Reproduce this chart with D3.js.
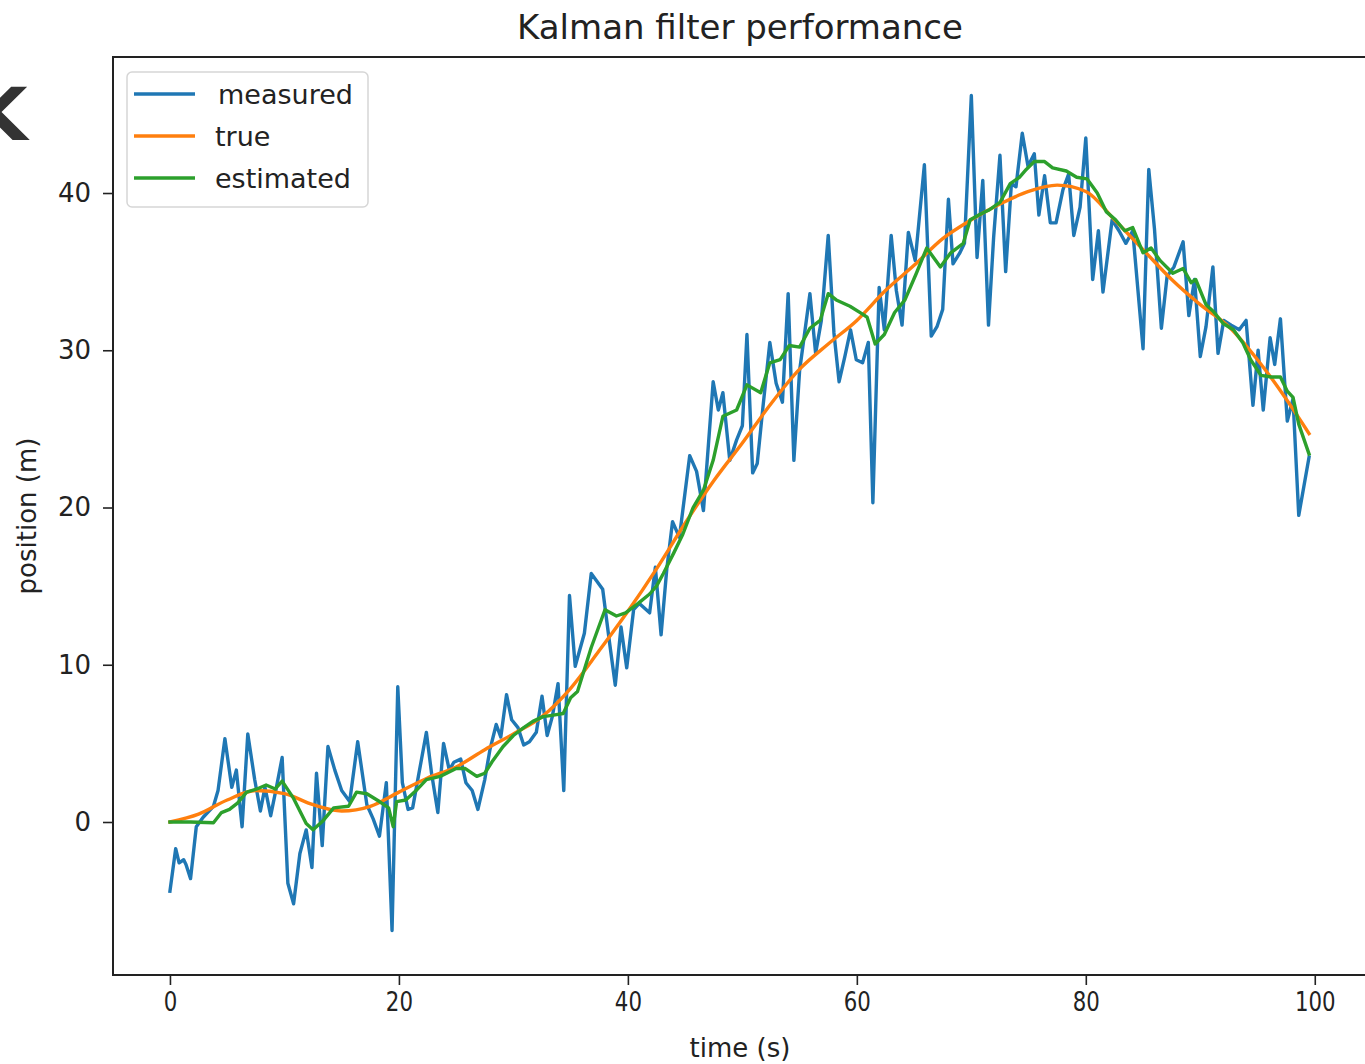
<!DOCTYPE html>
<html>
<head>
<meta charset="utf-8">
<script src="https://cdn.jsdelivr.net/npm/d3@7"></script>
<style>
  html, body { margin: 0; padding: 0; background: #fff; overflow: hidden; }
  svg { display: block; font-family: "DejaVu Sans", sans-serif; }
</style>
</head>
<body>
<svg id="chart" width="1365" height="1064"></svg>
<script>
// Kalman filter demo: noisy measurements, ground truth and filter estimate.

const measuredTime = [
  0, 0.5, 0.8, 1.2, 1.4, 1.8, 2.3, 2.9, 3.8, 4.2, 4.8, 5.4, 5.8, 6.3, 6.8, 7.4, 7.9, 8.3, 8.8, 9.3, 9.8,
  10.3, 10.8, 11.35, 11.9, 12.4, 12.8, 13.3, 13.8, 14.4, 15.0, 15.7, 16.4, 17.2, 17.75, 18.3, 18.9, 19.4, 19.9,
  20.3, 20.8, 21.2, 21.7, 22.4, 22.85, 23.4, 23.9, 24.4, 24.8, 25.4, 25.85, 26.4, 26.9, 27.5, 27.95, 28.5, 28.9, 29.4, 29.85,
  30.4, 30.9, 31.4, 32.0, 32.5, 32.95, 33.4, 33.9, 34.4, 34.9, 35.4, 36.2, 36.8, 37.8, 38.4, 38.9, 39.4, 39.9,
  40.5, 41.0, 41.9, 42.4, 42.9, 43.4, 43.9, 44.5, 45.4, 46.0, 46.6, 47.45, 47.9, 48.3, 48.9, 49.5, 50.0, 50.4, 50.9,
  51.3, 51.8, 52.4, 52.95, 53.5, 54.0, 54.5, 55.0, 55.9, 56.4, 56.9, 57.5, 58.0, 58.45, 58.95, 59.45, 59.95,
  60.5, 61.0, 61.4, 61.95, 62.4, 63.0, 63.45, 63.95, 64.5, 65.1, 65.9, 66.5, 67.0, 67.5, 68.0, 68.4, 69.0, 69.4,
  70.0, 70.5, 71.0, 71.5, 71.95, 72.5, 73.0, 73.5, 73.9, 74.45, 74.95, 75.5, 75.9, 76.4, 76.9, 77.4, 78.0, 78.5, 78.95, 79.5,
  80.0, 80.6, 81.1, 81.5, 82.3, 82.9, 83.5, 84.1, 85.0, 85.5, 86.0, 86.6, 87.1, 87.7, 88.5, 89.0, 89.5,
  90.0, 90.5, 91.1, 91.55, 92.05, 92.7, 93.4, 94.0, 94.6, 95.05, 95.5, 96.1, 96.5, 97.0, 97.6, 98.1, 98.6, 99.5
];
const measuredPos = [
  -4.4, -1.7, -2.6, -2.4, -2.7, -3.6, -0.3, 0.3, 1.0, 2.0, 5.3, 2.2, 3.3, -0.3, 5.6, 2.7, 0.7, 2.2, 0.4, 2.2, 4.1,
  -3.9, -5.2, -2.0, -0.5, -2.9, 3.1, -1.5, 4.8, 3.3, 2.0, 1.3, 5.1, 1.1, 0.2, -0.9, 2.5, -6.9, 8.6,
  2.5, 0.8, 0.9, 2.9, 5.7, 3.1, 0.6, 5.0, 3.3, 3.8, 4.0, 2.5, 2.0, 0.8, 2.7, 4.6, 6.2, 5.4, 8.1, 6.5,
  6.0, 4.9, 5.1, 5.7, 8.0, 5.5, 6.7, 8.8, 2.0, 14.4, 9.9, 12.0, 15.8, 14.8, 11.4, 8.7, 12.4, 9.8,
  13.5, 13.9, 13.3, 16.2, 11.9, 16.1, 19.1, 18.1, 23.3, 22.3, 19.8, 28.0, 26.2, 27.3, 23.0, 24.3, 25.2, 31.0, 22.2,
  22.8, 26.4, 30.5, 27.9, 26.7, 33.6, 23.0, 28.7, 33.6, 29.8, 31.9, 37.3, 31.1, 28.0, 29.6, 31.3, 29.4,
  29.2, 30.5, 20.3, 34.0, 31.3, 37.3, 33.8, 31.6, 37.5, 35.7, 41.8, 30.9, 31.5, 32.6, 39.6, 35.5, 36.2, 36.8,
  46.2, 35.9, 40.8, 31.6, 37.2, 42.4, 35.0, 40.6, 40.4, 43.8, 41.7, 42.5, 38.6, 41.1, 38.1, 38.1, 40.2, 41.2, 37.3, 39.1,
  43.5, 34.5, 37.6, 33.7, 38.3, 37.6, 36.8, 37.6, 30.1, 41.5, 37.7, 31.4, 34.7, 35.3, 36.9, 32.2, 34.5,
  29.6, 31.5, 35.3, 29.8, 31.9, 31.6, 31.3, 31.9, 26.5, 30.0, 26.2, 30.8, 29.1, 32.0, 25.5, 26.9, 19.5, 23.2
];

const trueTime = [
  0, 2.5, 5, 7.5, 10, 12.5, 15, 17.5, 20, 22.5, 25, 27.5, 30, 32.5, 35, 37.5, 40, 42.5, 45, 47.5,
  50, 52.5, 55, 57.5, 60, 62.5, 65, 67.5, 70, 72.5, 75, 77.5, 80, 82.5, 85, 87.5, 90, 92.5, 95, 97.5, 99.5
];
const truePos = [
  0.0, 0.5, 1.4, 2.0, 1.8, 1.1, 0.7, 1.0, 1.9, 2.8, 3.5, 4.6, 5.6, 6.7, 8.5, 10.9, 13.4, 16.1, 19.0, 21.7,
  24.1, 26.6, 28.8, 30.4, 31.9, 33.8, 35.4, 37.1, 38.3, 39.3, 40.1, 40.5, 40.1, 38.3, 36.4, 34.5, 32.9, 31.5, 29.4, 26.9, 24.7
];

const estimatedTime = [
  0, 1.8, 3.8, 4.5, 5.2, 5.9, 6.7, 7.6, 8.4, 9.2, 9.8, 10.8, 11.9, 12.5, 13.4, 14.3, 15.6, 16.3, 17.2, 18.3, 19.1, 19.5,
  19.8, 20.6, 21.5, 22.4, 23.6, 25.0, 25.8, 26.8, 27.5, 28.2, 29.1, 30.0, 30.9, 31.7, 32.6, 33.5, 34.35, 35.0, 35.6,
  36.8, 38.0, 39.0, 39.8, 40.9, 41.9, 42.5, 43.1, 44.0, 44.8, 45.7, 46.6, 47.45, 48.3, 49.5, 50.4, 51.6,
  52.4, 53.3, 54.1, 55.0, 55.9, 56.8, 57.5, 58.2, 59.4, 60.5, 60.9, 61.6, 62.4, 63.3, 64.2, 65.2, 66.1, 67.3,
  68.2, 69.3, 69.9, 70.9, 71.5, 72.5, 73.4, 74.2, 74.8, 75.5, 76.4, 77.1, 78.3, 79.2, 80.1, 81.0, 81.8,
  82.6, 83.4, 84.1, 85.0, 85.7, 86.5, 87.6, 88.5, 89.2, 89.6, 90.5, 91.1, 92.0, 92.9, 93.7, 94.4, 95.3,
  96.2, 97.0, 97.6, 98.1, 98.6, 99.5
];
const estimatedPos = [
  0.0, 0.0, -0.05, 0.6, 0.8, 1.2, 1.9, 2.1, 2.35, 2.1, 2.6, 1.5, -0.1, -0.5, 0.1, 0.9, 1.0, 1.9, 1.8, 1.3, 0.9, -0.3,
  1.3, 1.4, 2.0, 2.7, 2.9, 3.4, 3.4, 2.9, 3.1, 3.9, 4.8, 5.5, 6.0, 6.4, 6.7, 6.8, 6.9, 7.9, 8.3,
  11.1, 13.5, 13.1, 13.3, 13.9, 14.5, 15.0, 15.8, 17.1, 18.3, 20.0, 21.1, 23.0, 25.8, 26.2, 27.8, 27.3,
  29.2, 29.4, 30.3, 30.2, 31.4, 31.9, 33.6, 33.2, 32.8, 32.3, 32.1, 30.4, 31.0, 32.4, 33.2, 34.9, 36.5, 35.3,
  36.2, 36.8, 38.3, 38.7, 38.9, 39.4, 40.6, 41.0, 41.5, 42.0, 42.0, 41.6, 41.4, 41.0, 40.9, 40.0, 38.8,
  38.3, 37.6, 37.8, 36.2, 36.5, 35.7, 34.9, 35.2, 34.3, 34.5, 32.9, 32.5, 31.7, 31.3, 30.5, 29.4, 28.4,
  28.3, 28.3, 27.4, 27.0, 25.3, 23.4
];

const xTicks = [0, 20, 40, 60, 80, 100];
const yTicks = [0, 10, 20, 30, 40];

const series = [
  { name: 'measured', time: measuredTime, pos: measuredPos, color: '#1f77b4' },
  { name: 'true', time: trueTime, pos: truePos, color: '#ff7f0e', smooth: true },
  { name: 'estimated', time: estimatedTime, pos: estimatedPos, color: '#2ca02c' },
];

const svg = d3.select('#chart');
const margin = { left: 113, right: 1366, top: 57, bottom: 975 };

const x = d3.scaleLinear().domain([-4.975, 104.475]).range([margin.left, margin.right]);
const y = d3.scaleLinear().domain([-9.73, 48.65]).range([margin.bottom, margin.top]);

// stray glyph cut off at the left edge of the screenshot
svg.append('text')
  .attr('x', -29).attr('y', 140)
  .attr('font-size', 73).attr('font-weight', 'bold')
  .attr('fill', '#333')
  .text('K');

svg.append('defs').append('clipPath').attr('id', 'plot-clip')
  .append('rect')
  .attr('x', margin.left).attr('y', margin.top)
  .attr('width', margin.right - margin.left).attr('height', margin.bottom - margin.top);

const plot = svg.append('g').attr('clip-path', 'url(#plot-clip)');

series.forEach((s) => {
  const line = d3.line()
    .x((d) => x(d[0]))
    .y((d) => y(d[1]))
    .curve(s.smooth ? d3.curveMonotoneX : d3.curveLinear);
  plot.append('path')
    .datum(s.time.map((t, i) => [t, s.pos[i]]))
    .attr('d', line)
    .attr('fill', 'none')
    .attr('stroke', s.color)
    .attr('stroke-width', 3.4)
    .attr('stroke-linejoin', 'round')
    .attr('stroke-linecap', 'square');
});

// axes
const xAxis = svg.append('g')
  .attr('transform', `translate(0,${margin.bottom})`)
  .call(d3.axisBottom(x).tickValues(xTicks).tickSize(10).tickPadding(8).tickFormat(d3.format('d')));
const yAxis = svg.append('g')
  .attr('transform', `translate(${margin.left},0)`)
  .call(d3.axisLeft(y).tickValues(yTicks).tickSize(10).tickPadding(12).tickFormat(d3.format('d')));

[xAxis, yAxis].forEach((ax) => {
  ax.select('.domain').remove();
  ax.selectAll('line').attr('stroke', '#222').attr('stroke-width', 1.6);
  ax.selectAll('text').attr('font-size', 26).attr('fill', '#222').attr('font-family', '"DejaVu Sans", sans-serif');
});
// the x tick labels are horizontally squeezed in the reference
xAxis.selectAll('.tick text').attr('transform', 'scale(0.82,1)');

// frame
svg.append('rect')
  .attr('x', margin.left).attr('y', margin.top)
  .attr('width', margin.right - margin.left).attr('height', margin.bottom - margin.top)
  .attr('fill', 'none').attr('stroke', '#222').attr('stroke-width', 2);

// title and axis labels
svg.append('text')
  .attr('x', 740).attr('y', 39)
  .attr('text-anchor', 'middle').attr('font-size', 34).attr('fill', '#222')
  .text('Kalman filter performance');

svg.append('text')
  .attr('x', 740).attr('y', 1057)
  .attr('text-anchor', 'middle').attr('font-size', 26).attr('fill', '#222')
  .text('time (s)');

svg.append('text')
  .attr('transform', `translate(36,${(margin.top + margin.bottom) / 2}) rotate(-90)`)
  .attr('text-anchor', 'middle').attr('font-size', 26).attr('fill', '#222')
  .text('position (m)');

// legend
const legend = svg.append('g');
legend.append('rect')
  .attr('x', 127).attr('y', 72).attr('width', 241).attr('height', 135)
  .attr('rx', 5).attr('fill', 'rgba(255,255,255,0.8)')
  .attr('stroke', '#d6d6d6').attr('stroke-width', 1.5);

const legendX = [218, 215, 215];
series.forEach((s, i) => {
  const ly = 94 + i * 42;
  legend.append('line')
    .attr('x1', 134).attr('x2', 195).attr('y1', ly).attr('y2', ly)
    .attr('stroke', s.color).attr('stroke-width', 3.4);
  legend.append('text')
    .attr('x', legendX[i]).attr('y', ly + 10)
    .attr('font-size', 27).attr('fill', '#222')
    .text(s.name);
});
</script>
</body>
</html>
